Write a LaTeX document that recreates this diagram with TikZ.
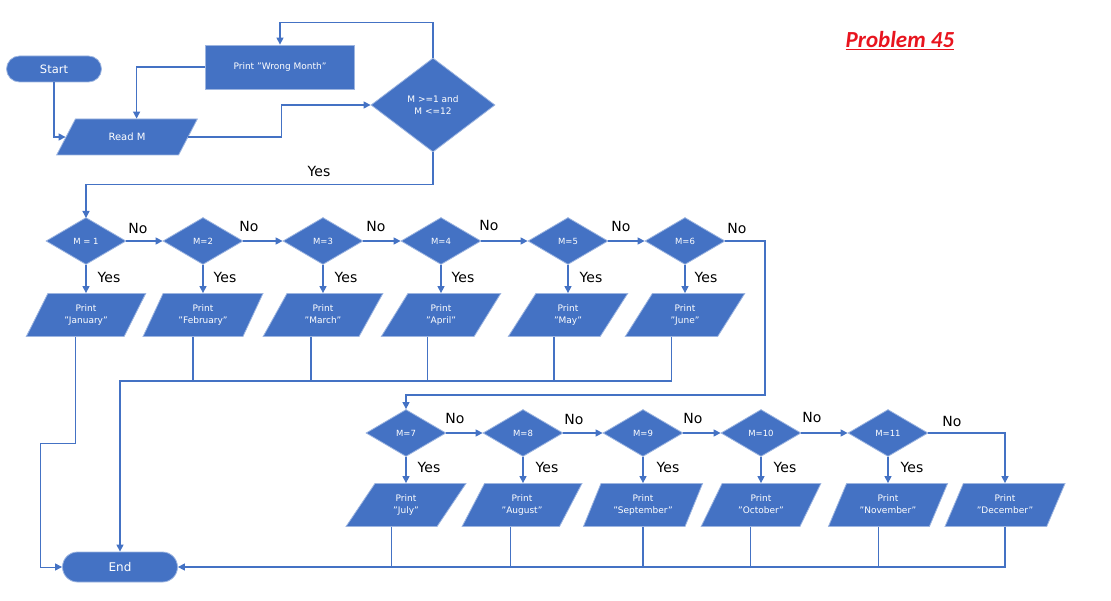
\documentclass[tikz,border=0pt]{standalone}
\usepackage{fontspec}
\setmainfont{DejaVu Sans}
\newfontfamily\titlefont{Carlito}
\usetikzlibrary{shapes.geometric,arrows.meta}
\definecolor{flowblue}{HTML}{4472C4}
\definecolor{edgeblue}{HTML}{9DB5E0}
\definecolor{titlered}{HTML}{E8141E}

\tikzset{
  box/.style={fill=flowblue, draw=edgeblue, line width=0.8pt, text=white,
    font=\fontsize{9}{11.5}\selectfont, align=center, inner sep=1pt},
  term/.style={box, rectangle, minimum width=95pt, minimum height=26pt,
    rounded corners=13pt, font=\fontsize{11.5}{13}\selectfont},
  proc/.style={box, rectangle, minimum width=149pt, minimum height=44pt},
  io/.style={box, trapezium, trapezium left angle=60, trapezium right angle=120,
    trapezium stretches=true, minimum width=120pt, minimum height=43pt},
  test/.style={box, diamond, inner sep=0pt, minimum width=80pt, minimum height=47pt,
    font=\fontsize{8.5}{10}\selectfont},
  flow/.style={draw=flowblue, line width=1.4pt},
  arr/.style={flow, -{Triangle[length=7pt,width=7pt]}},
  lbl/.style={font=\fontsize{14}{16}\selectfont, text=black, inner sep=0pt},
}

\begin{document}
\begin{tikzpicture}[x=1pt, y=-1pt]
\useasboundingbox (0,0) rectangle (1111,601);

% title
\node[font=\titlefont\bfseries\itshape\fontsize{23}{27}\selectfont, text=titlered,
      inner sep=0pt] (title) at (900,41) {\underline{Problem 45}};

% input loop
\node[term] (start) at (54,69) {Start};
\node[proc] (wrong) at (280,67) {Print "Wrong Month"};
\node[box, trapezium, trapezium left angle=54, trapezium right angle=126,
      trapezium stretches=true, minimum width=141pt, minimum height=36pt,
      font=\fontsize{10}{12}\selectfont] (readm) at (127,137) {Read M};
\node[box, diamond, inner sep=0pt, minimum width=124pt, minimum height=94pt] (check)
      at (433,105) {M >=1 and\\M <=12};

\draw[arr] (start.south) |- (readm.left side);
\draw[arr] (wrong.west) -| (readm.top side);
\draw[arr] (readm.right side) -- ++(93,0) |- (check.west);
\draw[arr] (check.north) -- ++(0,-35) -| (wrong.north);
\draw[arr] (check.south) -- ++(0,32) -| (86,218);
\node[lbl] (yes0) at (319,171) {Yes};

% first row of tests
\foreach \i/\x/\t/\m in {1/86/M = 1/January, 2/203/M=2/February, 3/323/M=3/March,
                         4/441/M=4/April, 5/568/M=5/May, 6/685/M=6/June} {
  \node[test] (d\i) at (\x,241) {\t};
  \node[io] (p\i) at (\x,315) {Print\\"\m"\vphantom{Jy}};
  \draw[arr] (d\i.south) -- (d\i.south |- p\i.north);
}
\foreach \i/\j in {1/2,2/3,3/4,4/5,5/6}
  \draw[arr] (d\i.east) -- (d\j.west);

\foreach \n/\x/\y in {1/138/228, 2/249/226, 3/376/226, 4/489/225, 5/621/226, 6/737/228}
  \node[lbl] (no\n) at (\x,\y) {No};
\foreach \n/\x in {1/109, 2/225, 3/346, 4/463, 5/591, 6/706}
  \node[lbl] (yes\n) at (\x,277) {Yes};

% second row of tests
\foreach \i/\x/\t in {7/406/M=7, 8/523/M=8, 9/643/M=9, 10/761/M=10, 11/888/M=11}
  \node[test] (d\i) at (\x,433) {\t};
\foreach \i/\x/\m in {7/406/July, 8/522/August, 9/643/September, 10/761/October,
                      11/888/November, 12/1005/December}
  \node[io] (p\i) at (\x,505) {Print\\"\m"\vphantom{Jy}};
\foreach \i in {7,8,9,10,11}
  \draw[arr] (d\i.south) -- (d\i.south |- p\i.north);
\foreach \i/\j in {7/8,8/9,9/10,10/11}
  \draw[arr] (d\i.east) -- (d\j.west);
\draw[arr] (d11.east) -| (p12.center |- p12.north);

\coordinate (turn) at (765,395);
\draw[arr] (d6.east) -| (turn) -| (d7.north);

\foreach \n/\x/\y in {7/455/418, 8/574/419, 9/693/418, 10/812/417, 11/952/421}
  \node[lbl] (no\n) at (\x,\y) {No};
\foreach \n/\x in {7/429, 8/547, 9/668, 10/785, 11/912}
  \node[lbl] (yes\n) at (\x,467) {Yes};

% end
\node[term, minimum width=115pt, minimum height=30pt, rounded corners=15pt,
      font=\fontsize{12}{14}\selectfont] (end) at (120,567) {End};

% merging lines
\coordinate (bus) at (120,381);
\coordinate (jan) at (40,443);
\draw[arr, line width=1pt] (p1.bottom side) |- (jan) |- (end.west);
\draw[arr] (p6.bottom side) |- (bus) -- (end.north);
\foreach \i in {2,3,4,5}
  \draw[flow] (p\i.bottom side) -- (p\i.bottom side |- bus);
\draw[arr] (p12.center |- p12.bottom side) |- (end.east);
\foreach \i in {7,8,10,11}
  \draw[flow] (p\i.bottom side) -- (p\i.bottom side |- end.east);
\draw[flow] (p9.center |- p9.bottom side) -- (p9.center |- end.east);
\end{tikzpicture}
\end{document}
